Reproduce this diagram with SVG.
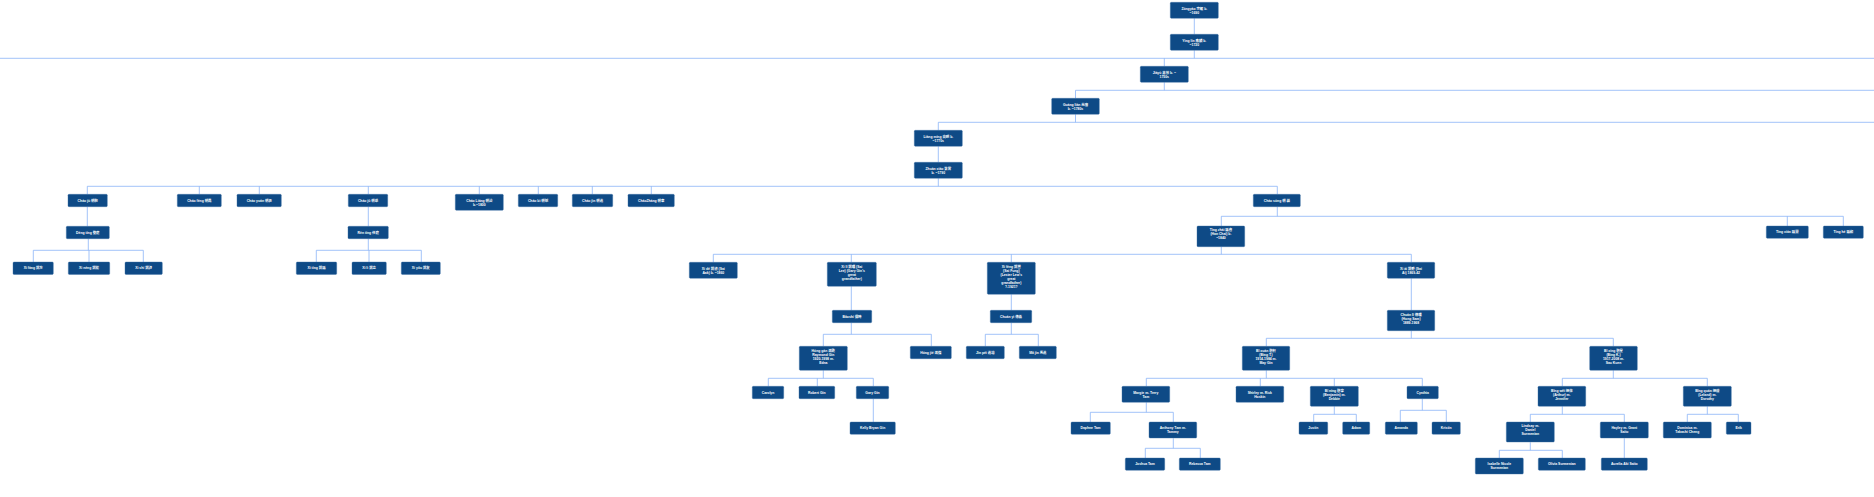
<svg xmlns="http://www.w3.org/2000/svg" width="1874" height="497" viewBox="0 0 1874 497">
<style>
.n rect{fill:#0e4a86;stroke:#3d6fa3;stroke-width:0.4}
.n text{fill:#fff;font-family:"Liberation Sans","Noto Sans CJK SC",sans-serif;font-size:3.4px;font-weight:bold;text-anchor:middle}
#edges path{fill:none;stroke:#8ab4f8;stroke-width:0.8}
</style>
<rect width="1874" height="497" fill="#fff"/>
<g id="edges">
<path d="M1194.3 18.3V34.3M1194.3 50.3V58.3M0 58.3H1874M1164.3 58.3V66.3"/>
<path d="M1164.3 82.3V90.3M1075.5 90.3H1874M1075.5 90.3V98.3"/>
<path d="M1075.5 114.3V122.3M938.3 122.3H1874M938.3 122.3V130.3"/>
<path d="M938.3 146.3V162.3M938.3 178.3V186.3M87.3 186.3H1277.3"/>
<path d="M87.3 186.3V194.3M199.3 186.3V194.3M259.3 186.3V194.3M368.3 186.3V194.3M479.3 186.3V194.3M538.3 186.3V194.3M592.3 186.3V194.3M651.3 186.3V194.3M1277.3 186.3V194.3"/>
<path d="M87.3 206.7V226.3M368.3 206.7V226.3"/>
<path d="M1277.3 206.7V216.3M1221.3 216.3H1843.3M1221.3 216.3V226M1787.3 216.3V226M1843.3 216.3V226"/>
<path d="M88.3 238.7V250.3M33.3 250.3H143.3M33.3 250.3V262M89 250.3V262M143.3 250.3V262"/>
<path d="M368.3 238.7V250.3M316.3 250.3H421.3M316.3 250.3V262M369 250.3V262M421.3 250.3V262"/>
<path d="M1221.3 246.7V254.3M713.3 254.3H1411.3M713.3 254.3V262.3M851.3 254.3V262.3M1011.3 254.3V262.3M1411.3 254.3V262.3"/>
<path d="M851.3 286.3V310.3M1011.3 294.3V310.3M1411.3 278.3V310.3"/>
<path d="M851.3 322.7V334.3M823.3 334.3H931.3M823.3 334.3V346.3M931.3 334.3V346.3"/>
<path d="M1011.3 322.7V334.3M985.3 334.3H1038.3M985.3 334.3V346.3M1038.3 334.3V346.3"/>
<path d="M1411.3 330.7V338.3M1266.3 338.3H1613.3M1266.3 338.3V346.3M1613.3 338.3V346.3"/>
<path d="M823.3 370.3V378.3M768.3 378.3H873.3M768.3 378.3V386.3M817.3 378.3V386.3M873.3 378.3V386.3"/>
<path d="M1266.3 370.3V378.3M1146.3 378.3H1422.3M1146.3 378.3V386.3M1260.3 378.3V386.3M1334.3 378.3V386.3M1422.3 378.3V386.3"/>
<path d="M1613.3 370.3V378.3M1562.3 378.3H1707.3M1562.3 378.3V386.3M1707.3 378.3V386.3"/>
<path d="M873.3 398.7V422"/>
<path d="M1146.3 402.3V412.3M1090.3 412.3H1173.3M1090.3 412.3V422M1173.3 412.3V422"/>
<path d="M1334.3 406.3V414.3M1313.7 414.3H1356.3M1313.7 414.3V422M1356.3 414.3V422"/>
<path d="M1422.3 398.7V410.3M1400.3 410.3H1446.3M1400.3 410.3V422M1446.3 410.3V422"/>
<path d="M1562.3 406.3V414.3M1530.3 414.3H1624.3M1530.3 414.3V422M1624.3 414.3V422"/>
<path d="M1707.3 406.3V414.3M1687.3 414.3H1738.3M1687.3 414.3V422M1738.3 414.3V422"/>
<path d="M1173.3 438.3V448.3M1145.3 448.3H1200.3M1145.3 448.3V458M1200.3 448.3V458"/>
<path d="M1530.3 442.3V450.3M1499.3 450.3H1562.3M1499.3 450.3V458M1562.3 450.3V458"/>
<path d="M1624.3 438.3V458"/>
</g>
<g id="n0" class="n"><rect x="1170.3" y="2.3" width="48" height="16" rx="1"/><text x="1194.3" y="9.5">Zōngyào 宗耀 b.<tspan x="1194.3" dy="4">~1690</tspan></text></g>
<g id="n1" class="n"><rect x="1170.3" y="34.3" width="48" height="16" rx="1"/><text x="1194.3" y="41.5">Yīng lín 應麟 b.<tspan x="1194.3" dy="4">~1720</tspan></text></g>
<g id="n2" class="n"><rect x="1140.3" y="66.3" width="48" height="16" rx="1"/><text x="1164.3" y="73.5">Jiāyù 嘉裕 b. ~<tspan x="1164.3" dy="4">1750s</tspan></text></g>
<g id="n3" class="n"><rect x="1051.7" y="98.3" width="47.6" height="16" rx="1"/><text x="1075.5" y="105.5">Guāng liàn 光廉<tspan x="1075.5" dy="4">b. ~1780s</tspan></text></g>
<g id="n4" class="n"><rect x="914.3" y="130.3" width="48" height="16" rx="1"/><text x="938.3" y="137.5">Liàng míng 亮明 b.<tspan x="938.3" dy="4">~1770s</tspan></text></g>
<g id="n5" class="n"><rect x="914.3" y="162.3" width="48" height="16" rx="1"/><text x="938.3" y="169.5">Zhuàn xiāo 篆霄<tspan x="938.3" dy="4">b. ~1790</tspan></text></g>
<g id="c1" class="n"><rect x="68" y="194.3" width="39.3" height="12.4" rx="1"/><text x="87.7" y="201.7">Cháo jù 朝駒</text></g>
<g id="c2" class="n"><rect x="177.3" y="194.3" width="44" height="12.4" rx="1"/><text x="199.3" y="201.7">Cháo fēng 朝鳳</text></g>
<g id="c3" class="n"><rect x="237" y="194.3" width="44.3" height="12.4" rx="1"/><text x="259.2" y="201.7">Cháo yuán 朝源</text></g>
<g id="c4" class="n"><rect x="348.3" y="194.3" width="39.4" height="12.4" rx="1"/><text x="368" y="201.7">Cháo jǔ 朝舉</text></g>
<g id="c5" class="n"><rect x="455.3" y="194.3" width="48" height="16" rx="1"/><text x="479.3" y="201.5">Cháo Liáng 朝諒<tspan x="479.3" dy="4">b.~1800</tspan></text></g>
<g id="c6" class="n"><rect x="518.3" y="194.3" width="39.4" height="12.4" rx="1"/><text x="538" y="201.7">Cháo bì 朝弼</text></g>
<g id="c7" class="n"><rect x="572.3" y="194.3" width="40.4" height="12.4" rx="1"/><text x="592.5" y="201.7">Cháo jìn 朝進</text></g>
<g id="c8" class="n"><rect x="628" y="194.3" width="46.3" height="12.4" rx="1"/><text x="651.2" y="201.7">CháoZhāng 朝章</text></g>
<g id="c9" class="n"><rect x="1253.3" y="194.3" width="47" height="12.4" rx="1"/><text x="1276.8" y="201.7">Cháo sōng 朝 崧</text></g>
<g id="d1" class="n"><rect x="66.3" y="226.3" width="43" height="12.4" rx="1"/><text x="87.8" y="233.7">Dēng tíng 登庭</text></g>
<g id="d2" class="n"><rect x="348" y="226.3" width="40.3" height="12.4" rx="1"/><text x="368.2" y="233.7">Rèn tíng 任庭</text></g>
<g id="d3" class="n"><rect x="1197" y="226" width="47.7" height="20.7" rx="1"/><text x="1220.9" y="231.4">Tíng zhāi 廷齋<tspan x="1220.9" dy="4">(Han Chai) b.</tspan><tspan x="1220.9" dy="4">~1840</tspan></text></g>
<g id="d4" class="n"><rect x="1766.3" y="226" width="42" height="12.3" rx="1"/><text x="1787.3" y="233.4">Tíng xián 廷賢</text></g>
<g id="d5" class="n"><rect x="1823.3" y="226" width="40" height="12.3" rx="1"/><text x="1843.3" y="233.4">Tíng hé 廷和</text></g>
<g id="e1" class="n"><rect x="13" y="262" width="40.3" height="12.4" rx="1"/><text x="33.2" y="269.4">Xī fāng 錫方</text></g>
<g id="e2" class="n"><rect x="68.3" y="262" width="41.4" height="12.4" rx="1"/><text x="89" y="269.4">Xī néng 錫能</text></g>
<g id="e3" class="n"><rect x="125" y="262" width="37.3" height="12.4" rx="1"/><text x="143.6" y="269.4">Xī shí 錫詩</text></g>
<g id="e4" class="n"><rect x="296.3" y="262" width="40.4" height="12.4" rx="1"/><text x="316.5" y="269.4">Xī tíng 錫廷</text></g>
<g id="e5" class="n"><rect x="352" y="262" width="34.3" height="12.4" rx="1"/><text x="369.1" y="269.4">Xī lì 錫立</text></g>
<g id="e6" class="n"><rect x="401.3" y="262" width="39" height="12.4" rx="1"/><text x="420.8" y="269.4">Xī yǒu 錫友</text></g>
<g id="f1" class="n"><rect x="689.3" y="262.3" width="48" height="16" rx="1"/><text x="713.3" y="269.5">Xī dé 錫德 (Sai<tspan x="713.3" dy="4">Aak) b. ~1860</tspan></text></g>
<g id="f2" class="n"><rect x="827.3" y="262.3" width="49" height="24" rx="1"/><text x="851.8" y="267.5">Xī lǐ 錫理 (Sai<tspan x="851.8" dy="4">Lee) (Gary Gin's</tspan><tspan x="851.8" dy="4">great</tspan><tspan x="851.8" dy="4">grandfather)</tspan></text></g>
<g id="f3" class="n"><rect x="987.3" y="262.3" width="48" height="32" rx="1"/><text x="1011.3" y="267.5">Xī fēng 錫豐<tspan x="1011.3" dy="4">(Sai Fung)</tspan><tspan x="1011.3" dy="4">(Lester Lew's</tspan><tspan x="1011.3" dy="4">great</tspan><tspan x="1011.3" dy="4">grandfather)</tspan><tspan x="1011.3" dy="4">?-1921?</tspan></text></g>
<g id="f4" class="n"><rect x="1387.3" y="262.3" width="47.4" height="16" rx="1"/><text x="1411" y="269.5">Xī ài 錫愛 (Sai<tspan x="1411" dy="4">Ai) 1869-42</tspan></text></g>
<g id="g1" class="n"><rect x="832.3" y="310.3" width="39.4" height="12.4" rx="1"/><text x="852" y="317.7">Bǎoshí 保時</text></g>
<g id="g2" class="n"><rect x="990.3" y="310.3" width="41.4" height="12.4" rx="1"/><text x="1011" y="317.7">Chuán yì 傳義</text></g>
<g id="g3" class="n"><rect x="1387.3" y="310.3" width="47.4" height="20.4" rx="1"/><text x="1411" y="315.7">Chuán lǐ 傳理<tspan x="1411" dy="4">(Hong Sam)</tspan><tspan x="1411" dy="4">1889-1968</tspan></text></g>
<g id="h1" class="n"><rect x="799.3" y="346.3" width="48" height="24" rx="1"/><text x="823.3" y="351.5">Hóng gān 鴻乾<tspan x="823.3" dy="4">Raymond Gin</tspan><tspan x="823.3" dy="4">1920-1998 m.</tspan><tspan x="823.3" dy="4">Edna</tspan></text></g>
<g id="h2" class="n"><rect x="910.3" y="346.3" width="41" height="12.4" rx="1"/><text x="930.8" y="353.7">Hóng jié 鴻傑</text></g>
<g id="h3" class="n"><rect x="966.3" y="346.3" width="38" height="12.4" rx="1"/><text x="985.3" y="353.7">Jìn péi 進培</text></g>
<g id="h4" class="n"><rect x="1019.3" y="346.3" width="37" height="12.4" rx="1"/><text x="1037.8" y="353.7">Mǎ jìn 馬進</text></g>
<g id="h5" class="n"><rect x="1242.3" y="346.3" width="47.4" height="24" rx="1"/><text x="1266" y="351.5">Bǐ xuān 碧軒<tspan x="1266" dy="4">(Bing T.)</tspan><tspan x="1266" dy="4">1914-1984 m.</tspan><tspan x="1266" dy="4">May Gin</tspan></text></g>
<g id="h6" class="n"><rect x="1589.7" y="346.3" width="47.6" height="24" rx="1"/><text x="1613.5" y="351.5">Bǐ xīng 碧星<tspan x="1613.5" dy="4">(Bing K.)</tspan><tspan x="1613.5" dy="4">1917-2008 m.</tspan><tspan x="1613.5" dy="4">Sau Kuen</tspan></text></g>
<g id="i1" class="n"><rect x="752.3" y="386.3" width="31.4" height="12.4" rx="1"/><text x="768" y="393.7">Carolyn</text></g>
<g id="i2" class="n"><rect x="799" y="386.3" width="35.7" height="12.4" rx="1"/><text x="816.8" y="393.7">Robert Gin</text></g>
<g id="i3" class="n"><rect x="856.3" y="386.3" width="32.4" height="12.4" rx="1"/><text x="872.5" y="393.7">Gary Gin</text></g>
<g id="i4" class="n"><rect x="1122" y="386.3" width="47.7" height="16" rx="1"/><text x="1145.8" y="393.5">Margie m. Terry<tspan x="1145.8" dy="4">Tam</tspan></text></g>
<g id="i5" class="n"><rect x="1236" y="386.3" width="47.7" height="16" rx="1"/><text x="1259.8" y="393.5">Shirley m. Rick<tspan x="1259.8" dy="4">Hoskin</tspan></text></g>
<g id="i6" class="n"><rect x="1310.3" y="386.3" width="48" height="20" rx="1"/><text x="1334.3" y="391.5">Bǐ níng 碧寧<tspan x="1334.3" dy="4">(Benjamin) m.</tspan><tspan x="1334.3" dy="4">Debbie</tspan></text></g>
<g id="i7" class="n"><rect x="1407" y="386.3" width="31.3" height="12.4" rx="1"/><text x="1422.7" y="393.7">Cynthia</text></g>
<g id="i8" class="n"><rect x="1538" y="386.3" width="47.7" height="20" rx="1"/><text x="1561.8" y="391.5">Bǐng wěi 炳偉<tspan x="1561.8" dy="4">(Arthur) m.</tspan><tspan x="1561.8" dy="4">Jennifer</tspan></text></g>
<g id="i9" class="n"><rect x="1683.3" y="386.3" width="48" height="20" rx="1"/><text x="1707.3" y="391.5">Bǐng quán 炳權<tspan x="1707.3" dy="4">(Leland) m.</tspan><tspan x="1707.3" dy="4">Dorothy</tspan></text></g>
<g id="j1" class="n"><rect x="850" y="422" width="45.3" height="12.3" rx="1"/><text x="872.6" y="429.4">Kelly Bryan Gin</text></g>
<g id="j2" class="n"><rect x="1071" y="422" width="39.3" height="12.3" rx="1"/><text x="1090.6" y="429.4">Daphne Tam</text></g>
<g id="j3" class="n"><rect x="1149" y="422" width="47.7" height="16" rx="1"/><text x="1172.8" y="429.2">Anthony Tam m.<tspan x="1172.8" dy="4">Tammy</tspan></text></g>
<g id="j4" class="n"><rect x="1299" y="422" width="28.7" height="12.3" rx="1"/><text x="1313.3" y="429.4">Justin</text></g>
<g id="j5" class="n"><rect x="1342.7" y="422" width="27" height="12.3" rx="1"/><text x="1356.2" y="429.4">Adam</text></g>
<g id="j6" class="n"><rect x="1385.3" y="422" width="32" height="12.3" rx="1"/><text x="1401.3" y="429.4">Amanda</text></g>
<g id="j7" class="n"><rect x="1432" y="422" width="28.3" height="12.3" rx="1"/><text x="1446.2" y="429.4">Kristin</text></g>
<g id="j8" class="n"><rect x="1506.3" y="422" width="48" height="20" rx="1"/><text x="1530.3" y="427.2">Lindsay m.<tspan x="1530.3" dy="4">Daniel</tspan><tspan x="1530.3" dy="4">Surmenian</tspan></text></g>
<g id="j9" class="n"><rect x="1600.3" y="422" width="48" height="16" rx="1"/><text x="1624.3" y="429.2">Hayley m. Grant<tspan x="1624.3" dy="4">Saito</tspan></text></g>
<g id="j10" class="n"><rect x="1663.3" y="422" width="48" height="16" rx="1"/><text x="1687.3" y="429.2">Dominica m.<tspan x="1687.3" dy="4">Takashi Cheng</tspan></text></g>
<g id="j11" class="n"><rect x="1726.3" y="422" width="24.7" height="12.3" rx="1"/><text x="1738.6" y="429.4">Erik</text></g>
<g id="k1" class="n"><rect x="1125.3" y="458" width="39.4" height="12.3" rx="1"/><text x="1145" y="465.4">Joshua Tam</text></g>
<g id="k2" class="n"><rect x="1179.3" y="458" width="41" height="12.3" rx="1"/><text x="1199.8" y="465.4">Rebecca Tam</text></g>
<g id="k3" class="n"><rect x="1475.3" y="458" width="48" height="16" rx="1"/><text x="1499.3" y="465.2">Isabelle Nicole<tspan x="1499.3" dy="4">Surmenian</tspan></text></g>
<g id="k4" class="n"><rect x="1538.3" y="458" width="47" height="12.3" rx="1"/><text x="1561.8" y="465.4">Olivia Surmenian</text></g>
<g id="k5" class="n"><rect x="1601.3" y="458" width="46" height="12.3" rx="1"/><text x="1624.3" y="465.4">Aurelia Aki Saito</text></g>
</svg>
